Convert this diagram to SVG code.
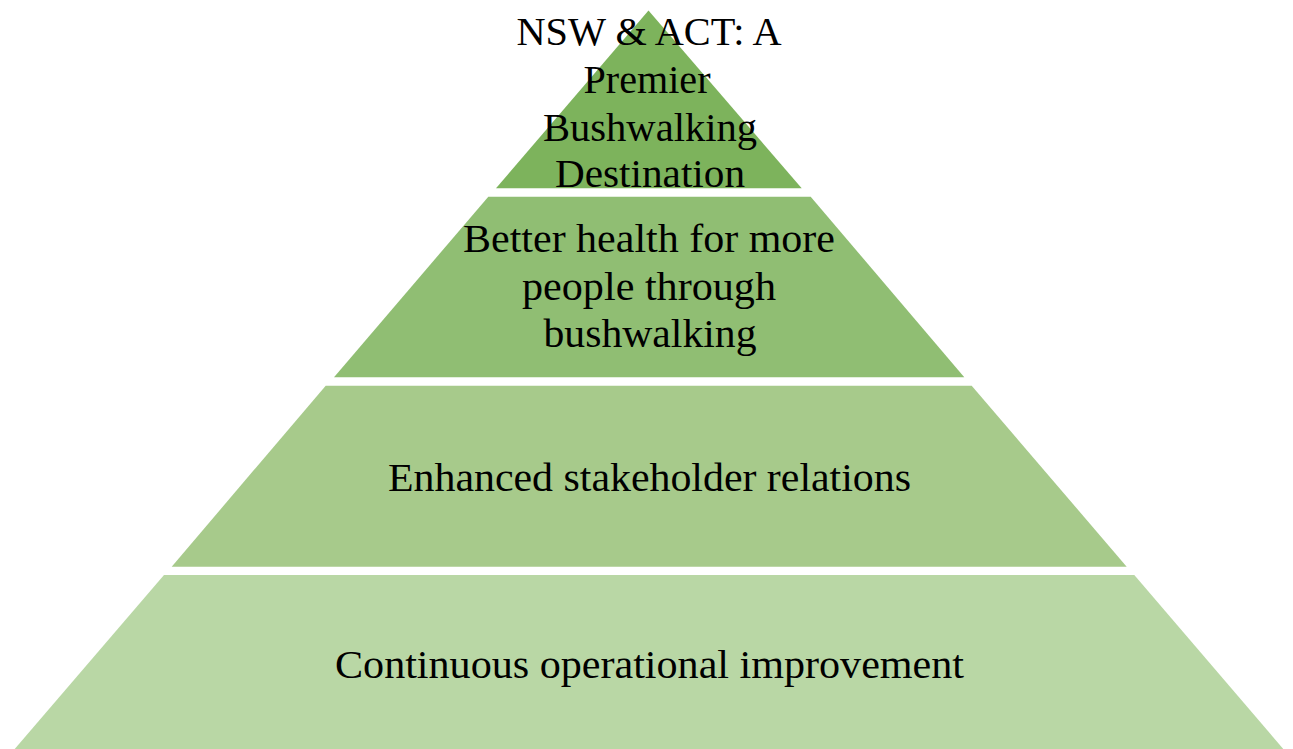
<svg xmlns="http://www.w3.org/2000/svg" width="1293" height="749" viewBox="0 0 1293 749">
<style>
.lbl{font-family:"Liberation Serif","Times New Roman",serif;font-size:40px;fill:#000;text-anchor:middle}
</style>
<rect width="1293" height="749" fill="#fff"/>
<g id="tier1">
<polygon points="648.5,10.5 801.7,188.3 496,188.3" fill="#7DB35C"/>
<text class="lbl" x="649" y="45" textLength="265" lengthAdjust="spacingAndGlyphs">NSW &amp; ACT: A</text>
<text class="lbl" x="647" y="93" textLength="127" lengthAdjust="spacingAndGlyphs">Premier</text>
<text class="lbl" x="650" y="141" textLength="214" lengthAdjust="spacingAndGlyphs">Bushwalking</text>
<text class="lbl" x="650" y="187" textLength="190" lengthAdjust="spacingAndGlyphs">Destination</text>
</g>
<g id="tier2">
<polygon points="488.3,196.7 810.7,196.7 964.3,377.3 334,377.3" fill="#90BE73"/>
<text class="lbl" x="649" y="252" textLength="372" lengthAdjust="spacingAndGlyphs">Better health for more</text>
<text class="lbl" x="649" y="300" textLength="254" lengthAdjust="spacingAndGlyphs">people through</text>
<text class="lbl" x="650" y="347" textLength="213" lengthAdjust="spacingAndGlyphs">bushwalking</text>
</g>
<g id="tier3">
<polygon points="325.7,385.7 971.7,385.7 1126.7,566.7 171.7,566.7" fill="#A7CA8B"/>
<text class="lbl" x="649.5" y="491" textLength="523" lengthAdjust="spacingAndGlyphs">Enhanced stakeholder relations</text>
</g>
<g id="tier4">
<polygon points="164,575 1134.3,575 1285,751 13,751" fill="#B9D7A5"/>
<text class="lbl" x="649.5" y="678" textLength="629" lengthAdjust="spacingAndGlyphs">Continuous operational improvement</text>
</g>
<g id="connectors"></g>
</svg>
